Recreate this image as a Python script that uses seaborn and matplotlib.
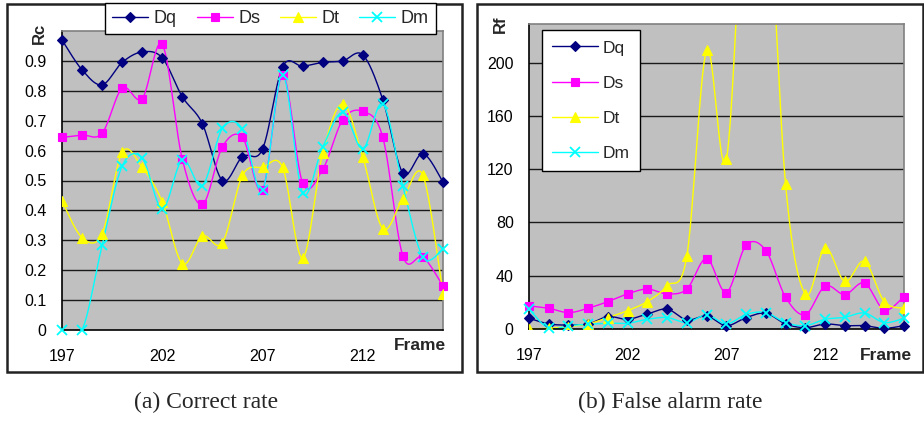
import matplotlib
matplotlib.use("Agg")
import matplotlib.pyplot as plt
import numpy as np
import seaborn as sns
from matplotlib.lines import Line2D
from matplotlib.patches import Rectangle

# Data
frames = list(range(197, 217))
series_names = ["Dq", "Ds", "Dt", "Dm"]

rc_dq = [0.97, 0.87, 0.82, 0.895, 0.93, 0.91, 0.78, 0.69, 0.50, 0.58,
         0.605, 0.88, 0.882, 0.895, 0.90, 0.92, 0.77, 0.525, 0.59, 0.495]
rc_ds = [0.644, 0.652, 0.658, 0.809, 0.774, 0.955, 0.571, 0.42, 0.613, 0.644,
         0.469, 0.853, 0.492, 0.537, 0.703, 0.731, 0.644, 0.247, 0.244, 0.147]
rc_dt = [0.431, 0.309, 0.322, 0.594, 0.544, 0.428, 0.222, 0.314, 0.292, 0.517,
         0.544, 0.544, 0.241, 0.591, 0.756, 0.578, 0.339, 0.439, 0.517, 0.122]
rc_dm = [0.0, 0.0, 0.283, 0.548, 0.575, 0.406, 0.569, 0.483, 0.674, 0.672,
         0.469, 0.853, 0.458, 0.611, 0.728, 0.606, 0.756, 0.481, 0.244, 0.27]

rf_dq = [8.1, 3.8, 3.0, 3.8, 9.3, 7.3, 11.3, 14.9, 6.8, 9.8,
         2.5, 8.6, 11.8, 3.8, 1.0, 3.8, 2.5, 2.5, 0.5, 2.5]
rf_ds = [17.4, 15.6, 12.3, 15.6, 20.6, 26.4, 30.0, 26.4, 30.0, 52.9,
         27.4, 62.9, 58.9, 23.9, 10.8, 32.2, 25.9, 34.5, 14.3, 24.4]
rf_dt = [0.0, 0.5, 1.8, 3.8, 8.6, 13.8, 20.6, 32.5, 55.1, 209.4,
         127.6, 350.0, 350.0, 108.7, 26.2, 60.9, 35.7, 50.8, 20.6, 15.6]
rf_dm = [14.9, 0.5, 2.5, 3.5, 4.3, 4.3, 7.3, 8.6, 4.8, 10.6,
         3.8, 11.0, 12.3, 4.8, 2.5, 7.3, 8.8, 12.0, 4.8, 8.1]

x_ticks = [197, 202, 207, 212]
rc_ticks = [0, 0.1, 0.2, 0.3, 0.4, 0.5, 0.6, 0.7, 0.8, 0.9]
rf_ticks = [0, 40, 80, 120, 160, 200]

colors = {"Dq": "#000080", "Ds": "#FF00FF", "Dt": "#FFFF00", "Dm": "#00FFFF"}
markers = {"Dq": ("D", 5.5), "Ds": ("s", 6.0), "Dt": ("^", 7.0), "Dm": ("x", 6.5)}


def smooth(x, y, n=24):
    # Excel-style smoothed line: Bezier segments with 1/6 control offsets
    pts = np.column_stack([x, y]).astype(float)
    P = np.vstack([pts[0], pts, pts[-1]])
    t = np.linspace(0, 1, n, endpoint=False)[:, None]
    out = []
    for i in range(1, len(P) - 2):
        p0, p1, p2, p3 = P[i - 1], P[i], P[i + 1], P[i + 2]
        c1 = p1 + (p2 - p0) / 6
        c2 = p2 - (p3 - p1) / 6
        out.append((1 - t) ** 3 * p1 + 3 * (1 - t) ** 2 * t * c1
                   + 3 * (1 - t) * t ** 2 * c2 + t ** 3 * p2)
    out.append(pts[-1:])
    out = np.vstack(out)
    return out[:, 0], out[:, 1]


def draw_panel(ax, data, ylim, yticks, ylabels):
    ax.set_facecolor("#C0C0C0")
    for name, vals in zip(series_names, data):
        sx, sy = smooth(frames, vals)
        sns.lineplot(x=sx, y=sy, ax=ax, color=colors[name], lw=1.0,
                     sort=False, estimator=None, legend=False)
        m, ms = markers[name]
        ax.plot(frames, vals, ls="none", marker=m, ms=ms, color=colors[name],
                mec=colors[name], mew=1.3 if m == "x" else 0.8,
                clip_on=(name == "Dt"), zorder=4)
    ax.set_xlim(197, 216)
    ax.set_ylim(*ylim)
    ax.set_xticks(x_ticks)
    ax.set_xticklabels([str(v) for v in x_ticks])
    ax.set_yticks(yticks)
    ax.set_yticklabels(ylabels)
    ax.grid(False)
    for v in yticks[1:]:
        ax.axhline(v, color="#1a1a1a", lw=1.0, zorder=1)
    ax.spines["top"].set_color("#808080")
    ax.spines["right"].set_color("#808080")
    ax.spines["left"].set_color("black")
    ax.spines["bottom"].set_color("black")
    for s in ax.spines.values():
        s.set_linewidth(1.2)
    ax.tick_params(axis="both", direction="out", length=5, width=1,
                   colors="black", labelsize=11.5, pad=6)
    ax.tick_params(axis="x", pad=9)
    ax.set_xlabel("")
    ax.set_ylabel("")


sns.set_style("white")
plt.rcParams["font.family"] = ["Liberation Sans", "DejaVu Sans"]

fig = plt.figure(figsize=(9.24, 4.21), dpi=100)
W, H = 924, 421

# outer frames around each chart
for x0, x1 in [(7, 462), (477, 923)]:
    fig.patches.append(Rectangle((x0 / W, 1 - 372 / H), (x1 - x0) / W, (372 - 4) / H,
                                 transform=fig.transFigure, fill=False,
                                 edgecolor="#222222", lw=1.8))

ax1 = fig.add_axes([62 / W, 1 - 330 / H, 381 / W, 299 / H])
ax2 = fig.add_axes([529 / W, 1 - 329 / H, 375 / W, 305 / H])

draw_panel(ax1, [rc_dq, rc_ds, rc_dt, rc_dm], (0, 1.0), rc_ticks,
           ["0"] + [f"{v:.1f}" for v in rc_ticks[1:]])
draw_panel(ax2, [rf_dq, rf_ds, rf_dt, rf_dm], (0, 229), rf_ticks,
           [str(v) for v in rf_ticks])

handles = [Line2D([0], [0], color=colors[n], lw=1.0, marker=markers[n][0],
                  ms=markers[n][1], mew=1.3 if n == "Dm" else 0.8,
                  mec=colors[n]) for n in series_names]

leg1 = fig.legend(handles, series_names, loc="upper left",
                  bbox_to_anchor=(105 / W, 1 - 3 / H), ncol=4, frameon=True,
                  fancybox=False, edgecolor="black", framealpha=1,
                  fontsize=13, handlelength=2.0, columnspacing=1.1,
                  handletextpad=0.3, borderpad=0.4, borderaxespad=0)
leg1.get_frame().set_linewidth(1.0)

leg2 = fig.legend(handles, series_names, loc="upper left",
                  bbox_to_anchor=(542 / W, 1 - 30 / H), ncol=1, frameon=True,
                  fancybox=False, edgecolor="black", framealpha=1,
                  fontsize=12.5, handlelength=2.6, labelspacing=1.15,
                  handletextpad=0.3, borderpad=0.6, borderaxespad=0)
leg2.get_frame().set_linewidth(1.0)

fig.text(39 / W, 1 - 33 / H, "Rc", rotation=90, ha="center", va="center",
         fontsize=12, fontweight="bold")
fig.text(500 / W, 1 - 24 / H, "Rf", rotation=90, ha="center", va="center",
         fontsize=12, fontweight="bold")
fig.text(420 / W, 1 - 345 / H, "Frame", ha="center", va="center",
         fontsize=12.5, fontweight="bold")
fig.text(886 / W, 1 - 355 / H, "Frame", ha="center", va="center",
         fontsize=12.5, fontweight="bold")

fig.text(206 / W, 1 - 402 / H, "(a) Correct rate", ha="center", va="center",
         fontsize=17, family="Liberation Serif")
fig.text(670 / W, 1 - 402 / H, "(b) False alarm rate", ha="center", va="center",
         fontsize=17, family="Liberation Serif")

fig.savefig("out.png", dpi=100)
